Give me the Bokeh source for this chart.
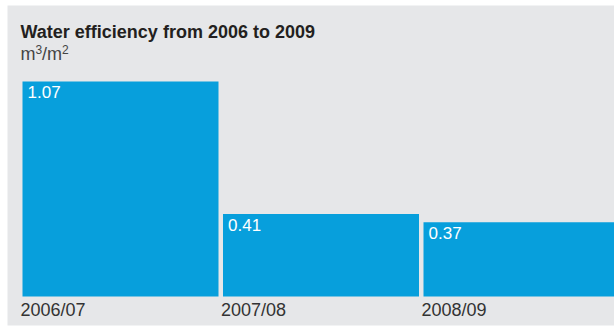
from bokeh.plotting import figure
from bokeh.models import ColumnDataSource, Range1d
from bokeh.core.properties import value
from bokeh.embed import file_html
from bokeh.resources import INLINE

# Data
periods = ["2006/07", "2007/08", "2008/09"]
efficiency = [1.07, 0.41, 0.37]
value_labels = ["1.07", "0.41", "0.37"]
title_text = "Water efficiency from 2006 to 2009"
unit_parts = ["m", "3", "/m", "2"]

W, H = 614, 328
left_b, top_b, bottom_b = 7, 5, 3
frame_w = W - left_b
frame_h = H - top_b - bottom_b

ppu_x = 200.5
ppu_y = 201.0
x_start = -113 / ppu_x
x_end = x_start + frame_w / ppu_x
y_start = -29 / ppu_y
y_end = y_start + frame_h / ppu_y
bar_w = 196 / ppu_x

def cx(px):
    return x_start + (px - left_b) / ppu_x

def cy(py):
    return y_end - (py - top_b) / ppu_y

p = figure(width=W, height=H, output_backend="svg", toolbar_location=None,
           x_range=Range1d(x_start, x_end), y_range=Range1d(y_start, y_end),
           min_border_left=left_b, min_border_right=0, min_border_top=top_b,
           min_border_bottom=bottom_b)
p.axis.visible = False
p.grid.visible = False
p.outline_line_color = None
p.background_fill_color = "#e6e7e9"
p.border_fill_color = "white"

xs = list(range(len(periods)))
src = ColumnDataSource(dict(x=xs, top=efficiency, left=[x - bar_w / 2 for x in xs],
                            zero=[0] * len(xs), period=periods, lab=value_labels))

p.vbar(x="x", top="top", bottom=0, width=bar_w, source=src,
       fill_color="#079fdc", line_color=None)

p.text(x="left", y="top", text="lab", source=src, x_offset=5, y_offset=5,
       text_font=value("Liberation Sans"), text_font_size="17px",
       text_color="white", text_baseline="top", text_align="left")

p.text(x="left", y="zero", text="period", source=src, x_offset=-2, y_offset=3,
       text_font=value("Liberation Sans"), text_font_size="18px",
       text_color="#333333", text_baseline="top", text_align="left")

p.text(x=[cx(20)], y=[cy(31.5)], text=[title_text],
       text_font=value("Liberation Sans"), text_font_size="18px",
       text_font_style="bold", text_color="#231f20",
       text_baseline="alphabetic", text_align="left")

# unit line with real superscripts
main_x = [cx(20), cx(41.5)]
sup_x = [cx(35), cx(61.5)]
p.text(x=main_x, y=[cy(53), cy(53)], text=[unit_parts[0], unit_parts[2]],
       text_font=value("Liberation Sans"), text_font_size="18px",
       text_color="#444444", text_baseline="alphabetic", text_align="left")
p.text(x=sup_x, y=[cy(48.5), cy(48.5)], text=[unit_parts[1], unit_parts[3]],
       text_font=value("Liberation Sans"), text_font_size="12px",
       text_color="#444444", text_baseline="alphabetic", text_align="left")

open("out.html", "w").write(file_html(p, INLINE))
